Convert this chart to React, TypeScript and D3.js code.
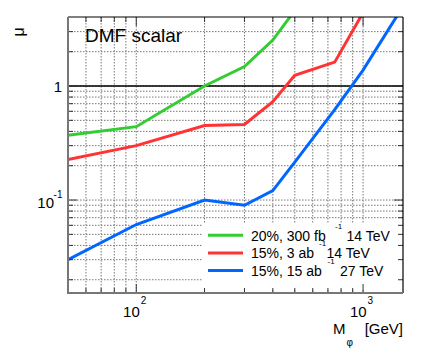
import React from "react";
import * as d3 from "d3";

// series (M_phi in GeV, mu)
const greenMass = [50, 100, 200, 300, 400, 500];
const greenMu = [0.37, 0.44, 1.0, 1.48, 2.53, 4.6];
const redMass = [50, 100, 200, 300, 400, 500, 750, 1000];
const redMu = [0.227, 0.3, 0.45, 0.46, 0.73, 1.24, 1.62, 4.4];
const blueMass = [50, 100, 200, 300, 400, 500, 750, 1000, 1500];
const blueMu = [0.03, 0.061, 0.1, 0.09, 0.121, 0.215, 0.62, 1.38, 5.0];

const xGrid = [60, 70, 80, 90, 100, 200, 300, 400, 500, 600, 700, 800, 900, 1000];
const xMajor = [100, 1000];
const xMajorExp = ["2", "3"];
const yGrid = [0.02, 0.03, 0.04, 0.05, 0.06, 0.07, 0.08, 0.09, 0.1, 0.2, 0.3, 0.4, 0.5, 0.6, 0.7, 0.8, 0.9, 1, 2, 3];
const yMajor = [0.1, 1];

const series = [
  { mass: greenMass, mu: greenMu, color: "#33cc33", label: "20%, 300 fb", energy: "14 TeV" },
  { mass: redMass, mu: redMu, color: "#ff3333", label: "15%, 3 ab", energy: "14 TeV" },
  { mass: blueMass, mu: blueMu, color: "#0066ff", label: "15%, 15 ab", energy: "27 TeV" },
];

const W = 425, H = 350;
const L = 68, R = 403, T = 17, B = 293;
const font = "'Liberation Sans', Arial, Helvetica, sans-serif";

const App = () => {
  const x = d3.scaleLog().domain([50, 1500]).range([L, R]);
  const y = d3.scaleLog().domain([0.0153, 4.03]).range([B, T]);
  const line = d3.line<[number, number]>().x(d => x(d[0])).y(d => y(d[1]));

  // legend layout
  const legX = 202, legY = 224;
  const rowH = 17.6;
  const supX = [335, 319, 327.5];
  const energyX = [346.5, 326.5, 340];

  return (
    <svg width={W} height={H} style={{ position: "absolute", left: 0, top: 0 }} fontFamily={font}>
      <defs>
        <clipPath id="plotClip">
          <rect x={L} y={T} width={R - L} height={B - T} />
        </clipPath>
      </defs>
      <rect width={W} height={H} fill="white" />

      {/* grid */}
      <g stroke="#777" strokeWidth={1} strokeDasharray="1.5,1.5">
        {xGrid.map(v => (
          <line key={"gx" + v} x1={x(v)} x2={x(v)} y1={T} y2={B} />
        ))}
        {yGrid.map(v => (
          <line key={"gy" + v} x1={L} x2={R} y1={y(v)} y2={y(v)} />
        ))}
      </g>

      {/* mu = 1 */}
      <line x1={L} x2={R} y1={y(1)} y2={y(1)} stroke="black" strokeWidth={1.5} />

      {/* curves */}
      <g clipPath="url(#plotClip)" fill="none" strokeWidth={3}>
        {series.map(s => (
          <path key={s.color} d={line(s.mass.map((m, i) => [m, s.mu[i]]) as [number, number][]) || ""} stroke={s.color} />
        ))}
      </g>

      {/* legend */}
      <rect x={legX} y={legY} width={R - legX} height={66} fill="white" />
      {series.map((s, i) => {
        const cy = 235.3 + i * rowH;
        return (
          <g key={"leg" + i}>
            <line x1={208} x2={243} y1={cy} y2={cy} stroke={s.color} strokeWidth={3} />
            <text x={251} y={cy + 5.3} fontSize={14}>{s.label}</text>
            <text x={supX[i]} y={cy - 6.5} fontSize={8}>-1</text>
            <text x={energyX[i]} y={cy + 5.3} fontSize={14}>{s.energy}</text>
          </g>
        );
      })}

      {/* ticks */}
      <g stroke="#333" strokeWidth={1}>
        {xGrid.concat([50]).map(v => {
          const len = xMajor.includes(v) ? 9 : 5;
          return (
            <g key={"tx" + v}>
              <line x1={x(v)} x2={x(v)} y1={B} y2={B - len} />
              <line x1={x(v)} x2={x(v)} y1={T} y2={T + len} />
            </g>
          );
        })}
        {yGrid.map(v => {
          const len = yMajor.includes(v) ? 9 : 5;
          return (
            <g key={"ty" + v}>
              <line x1={L} x2={L + len} y1={y(v)} y2={y(v)} />
              <line x1={R} x2={R - len} y1={y(v)} y2={y(v)} />
            </g>
          );
        })}
      </g>

      {/* frame */}
      <line x1={L} x2={R} y1={T} y2={T} stroke="black" strokeWidth={1.2} />
      <line x1={R} x2={R} y1={T} y2={B} stroke="black" strokeWidth={1.2} />
      <line x1={L} x2={L} y1={T} y2={B + 1} stroke="#777" strokeWidth={2} />
      <line x1={L - 1} x2={R} y1={B} y2={B} stroke="#777" strokeWidth={2} />

      {/* x tick labels */}
      {xMajor.map((v, i) => (
        <g key={"lx" + v}>
          <text x={x(v) + 3.5} y={316.5} fontSize={15} textAnchor="end">10</text>
          <text x={x(v) + 4.5} y={303.5} fontSize={10}>{xMajorExp[i]}</text>
        </g>
      ))}

      {/* y tick labels */}
      <text x={62} y={y(1) + 6} fontSize={15} textAnchor="end">1</text>
      <text x={54} y={y(0.1) + 8} fontSize={15} textAnchor="end">10</text>
      <text x={62.5} y={y(0.1) - 2} fontSize={10} textAnchor="end">-1</text>

      {/* titles */}
      <text x={85} y={41.7} fontSize={19}>DMF scalar</text>
      <text transform="translate(24,32) rotate(-90)" fontSize={16} textAnchor="middle">μ</text>
      <text x={333} y={333.5} fontSize={15}>M</text>
      <text x={346.5} y={346} fontSize={10}>φ</text>
      <text x={403} y={333.5} fontSize={15} textAnchor="end">[GeV]</text>
    </svg>
  );
};

export default App;
